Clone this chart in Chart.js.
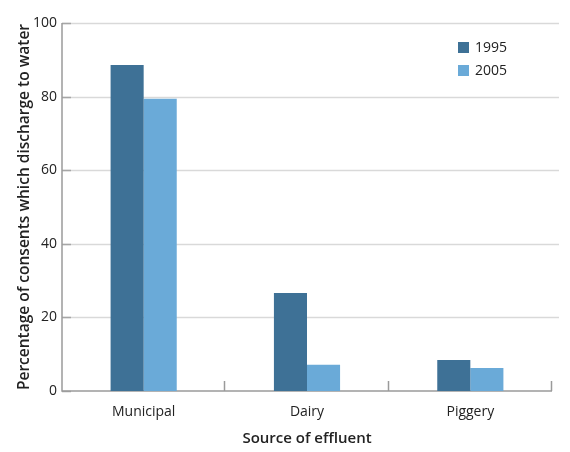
<!DOCTYPE html>
<html><head><meta charset="utf-8">
<script src="https://cdn.jsdelivr.net/npm/chart.js@4"></script>
<style>html,body{margin:0;padding:0;background:#fff}#wrap{width:570px;height:452px}</style>
</head><body><div id="wrap"><canvas id="c" width="570" height="452"></canvas></div>
<script>
const categories = ["Municipal", "Dairy", "Piggery"];
const seriesNames = ["1995", "2005"];
const values1995 = [88.6, 26.6, 8.4];
const values2005 = [79.4, 7.1, 6.25];
const yTicks = [0, 20, 40, 60, 80, 100];
const colors = ["#3e7196", "#6aaad8"];

const FONT = "'Open Sans', 'Noto Sans', sans-serif";

const decor = {
  id: 'decor',
  beforeDatasetsDraw(chart) {
    const ctx = chart.ctx, a = chart.chartArea;
    const y = chart.scales.y, x = chart.scales.x;
    ctx.save();
    ctx.strokeStyle = '#d9d9d9'; ctx.lineWidth = 1.5;
    yTicks.forEach(v => {
      if (v === 0) return;
      const py = Math.round(y.getPixelForValue(v)) + 0.5;
      ctx.beginPath(); ctx.moveTo(a.left, py); ctx.lineTo(a.right + 7, py); ctx.stroke();
    });
    ctx.strokeStyle = '#a6a6a6'; ctx.lineWidth = 1.5;
    yTicks.forEach(v => {
      const py = Math.round(y.getPixelForValue(v)) + 0.5;
      ctx.beginPath(); ctx.moveTo(a.left, py); ctx.lineTo(a.left + 9, py); ctx.stroke();
    });
    ctx.strokeStyle = '#9a9a9a'; ctx.lineWidth = 1.5;
    ctx.beginPath(); ctx.moveTo(a.left, a.top); ctx.lineTo(a.left, a.bottom); ctx.lineTo(a.right, a.bottom); ctx.stroke();
    for (let i = 1; i <= categories.length; i++) {
      let bx;
      if (i < categories.length) bx = (x.getPixelForValue(i - 1) + x.getPixelForValue(i)) / 2;
      else bx = a.right;
      bx = Math.round(bx) - 0.5;
      ctx.beginPath(); ctx.moveTo(bx, a.bottom); ctx.lineTo(bx, a.bottom - 10); ctx.stroke();
    }
    ctx.restore();
  },
  afterDraw(chart) {
    const ctx = chart.ctx, a = chart.chartArea;
    ctx.save();
    ctx.font = "14px " + FONT;
    ctx.textBaseline = 'middle';
    chart.data.datasets.forEach((ds, i) => {
      const top = a.top + 19 + i * 23;
      ctx.fillStyle = ds.backgroundColor;
      ctx.fillRect(a.left + 396, top, 11, 11);
      ctx.fillStyle = '#222';
      ctx.fillText(ds.label, a.left + 413, top + 6);
    });
    ctx.restore();
  }
};

new Chart(document.getElementById('c'), {
  type: 'bar',
  data: {
    labels: categories,
    datasets: [
      { label: seriesNames[0], data: values1995, backgroundColor: colors[0] },
      { label: seriesNames[1], data: values2005, backgroundColor: colors[1] }
    ]
  },
  options: {
    responsive: false,
    animation: false,
    devicePixelRatio: 1,
    layout: { padding: { top: 23, right: 18, left: 11, bottom: 0 } },
    datasets: { bar: { categoryPercentage: 0.405, barPercentage: 1.0, borderWidth: 0 } },
    plugins: { legend: { display: false }, tooltip: { enabled: false } },
    scales: {
      x: {
        grid: { display: false, drawTicks: false },
        border: { display: false },
        ticks: { color: '#222', font: { family: FONT, size: 14 }, padding: 13 },
        title: { display: true, text: 'Source of effluent', color: '#222', font: { family: FONT, size: 15, weight: '600' }, padding: { top: 0 } },
        afterFit(s) { s.height = 61; }
      },
      y: {
        min: 0, max: 100,
        afterBuildTicks(s) { s.ticks = yTicks.map(v => ({ value: v })); },
        grid: { display: false, drawTicks: false },
        border: { display: false },
        ticks: { color: '#222', font: { family: FONT, size: 14 }, padding: 5 },
        title: { display: true, text: 'Percentage of consents which discharge to water', color: '#222', font: { family: FONT, size: 15.5, weight: '600' }, padding: { bottom: 2 } },
        afterFit(s) { s.width = 51; }
      }
    }
  },
  plugins: [decor]
});
</script>
</body></html>
